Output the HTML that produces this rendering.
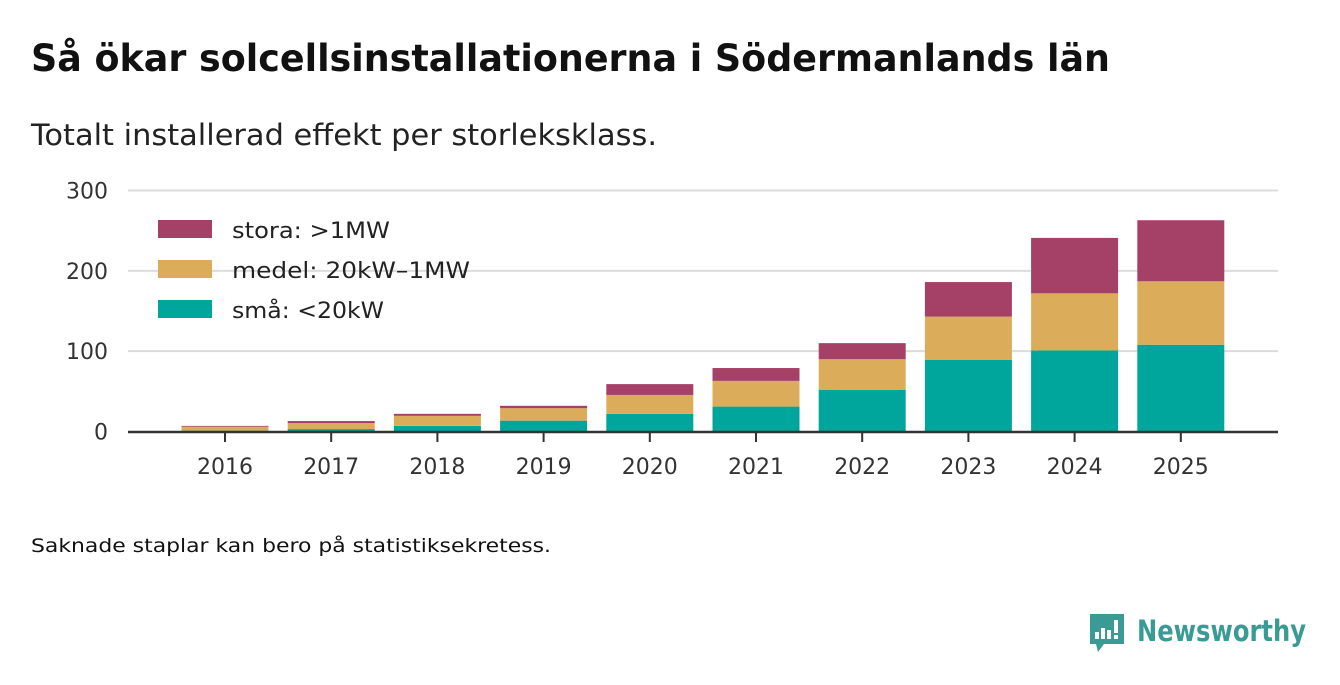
<!DOCTYPE html>
<html><head><meta charset="utf-8"><style>
body{margin:0;background:#fff;font-family:"DejaVu Sans","Liberation Sans",sans-serif;}
svg{display:block}
</style></head><body>
<svg width="1340" height="685">
<text x="31" y="71" font-size="37" font-weight="bold" fill="#111" textLength="1079" lengthAdjust="spacingAndGlyphs">Så ökar solcellsinstallationerna i Södermanlands län</text>
<text x="31" y="145" font-size="29" fill="#222" textLength="626" lengthAdjust="spacingAndGlyphs">Totalt installerad effekt per storleksklass.</text>
<g id="grid"></g><g id="bars"></g><g id="xaxis"></g>
<g>
<rect x="158" y="220" width="54" height="18" fill="#a54066"/>
<text x="232" y="238" font-size="22" fill="#222" textLength="158" lengthAdjust="spacingAndGlyphs">stora: &gt;1MW</text>
<rect x="158" y="260" width="54" height="18" fill="#dbac5a"/>
<text x="232" y="278" font-size="22" fill="#222" textLength="238" lengthAdjust="spacingAndGlyphs">medel: 20kW–1MW</text>
<rect x="158" y="300" width="54" height="18" fill="#00a59b"/>
<text x="232" y="318" font-size="22" fill="#222" textLength="152" lengthAdjust="spacingAndGlyphs">små: &lt;20kW</text>
</g>
<text x="31" y="552" font-size="19" fill="#111" textLength="520" lengthAdjust="spacingAndGlyphs">Saknade staplar kan bero på statistiksekretess.</text>
<g>
<path d="M1090 614h34v30h-20l-6 8-2-8h-6z" fill="#3a9a94"/>
<rect x="1095" y="632" width="4" height="7" fill="#fff"/><rect x="1101" y="628" width="4" height="11" fill="#fff"/><rect x="1107" y="630" width="4" height="9" fill="#fff"/><rect x="1114" y="620" width="4" height="13" fill="#fff"/><rect x="1114" y="635" width="4" height="4" fill="#fff"/>
<text x="1137" y="641" font-size="29" font-weight="bold" fill="#3a9a94" textLength="169" lengthAdjust="spacingAndGlyphs">Newsworthy</text>
</g>
</svg>
<script>
const years=["2016","2017","2018","2019","2020","2021","2022","2023","2024","2025"];
const sma=[1,3,7,13.5,22,31,52,89,101,108];
const medel=[5,7.5,12.5,15.5,23.5,32,38,54,71,79];
const stora=[1,2.5,2.5,3,13.5,16,20,43,69,76];
const yTicks=[0,100,200,300];
const NS="http://www.w3.org/2000/svg";
const y=v=>431.5-v*0.8033;
const x=i=>225+i*106.2;
const bw=87;
function mk(t,a,p){const e=document.createElementNS(NS,t);for(const k in a)e.setAttribute(k,a[k]);p.appendChild(e);return e;}
const grid=document.getElementById('grid'),bars=document.getElementById('bars'),xa=document.getElementById('xaxis');
yTicks.forEach(t=>{
 if(t>0){const l=mk('line',{x1:128,x2:1278,y1:y(t),y2:y(t),stroke:'#dcdcdc','stroke-width':2},grid);
 
 }
 const tx=mk('text',{x:108,y:y(t)+8,'font-size':22,fill:'#333','text-anchor':'end'},grid);tx.textContent=t;
 
 
});
const series=[["sma",sma,"#00a59b"],["medel",medel,"#dbac5a"],["stora",stora,"#a54066"]];
years.forEach((yr,i)=>{
 let base=0;
 series.forEach(([n,arr,c])=>{
  const v=arr[i];
  const r=mk('rect',{x:x(i)-bw/2,y:y(base+v),width:bw,height:y(base)-y(base+v),fill:c},bars);
  
  
  base+=v;
 });
 mk('line',{x1:x(i),x2:x(i),y1:432,y2:442,stroke:'#333','stroke-width':2},xa);
 const t=mk('text',{x:x(i),y:474,'font-size':22,fill:'#333','text-anchor':'middle'},xa);t.textContent=yr;
 
 
});
const ax=mk('line',{x1:128,x2:1278,y1:432,y2:432,stroke:'#333','stroke-width':2.5},xa);


</script>
</body></html>
